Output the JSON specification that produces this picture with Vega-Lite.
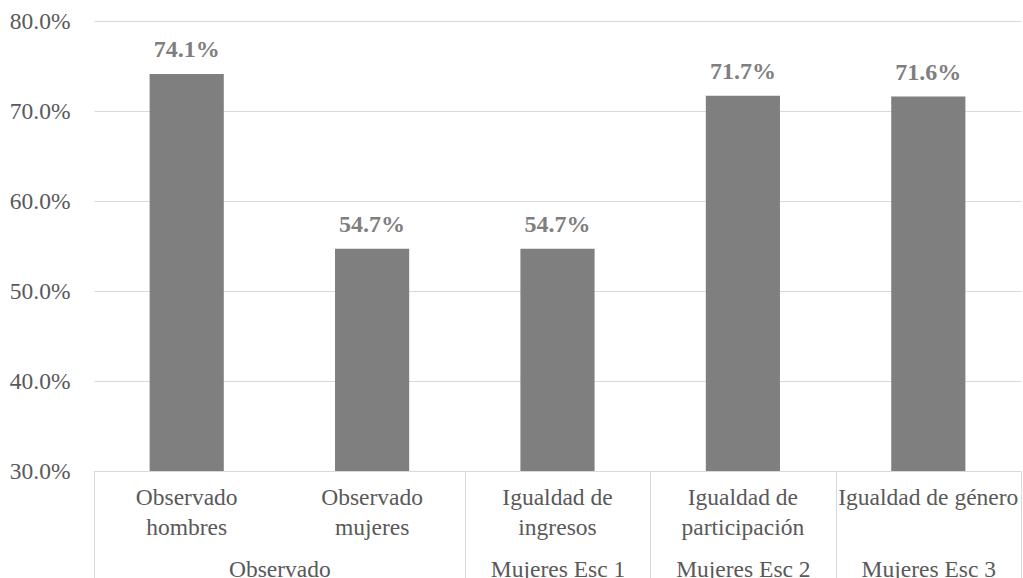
{
  "$schema": "https://vega.github.io/schema/vega-lite/v6.json",
  "width": 927,
  "height": 450,
  "autosize": {"type": "none"},
  "padding": {"left": 94, "top": 21, "right": 2, "bottom": 107},
  "background": "white",
  "config": {
    "view": {"stroke": null},
    "font": "Liberation Serif, Times New Roman, serif",
    "text": {"font": "Liberation Serif, Times New Roman, serif"},
    "axis": {"labelFont": "Liberation Serif, Times New Roman, serif", "titleFont": "Liberation Serif, Times New Roman, serif"}
  },
  "datasets": {
    "bars": [
      {"cat": "Observado|hombres", "value": 0.741},
      {"cat": "Observado|mujeres", "value": 0.547},
      {"cat": "Igualdad de|ingresos", "value": 0.547},
      {"cat": "Igualdad de|participación", "value": 0.717},
      {"cat": "Igualdad de género", "value": 0.716}
    ],
    "seps": [{"pos": 0}, {"pos": 2}, {"pos": 3}, {"pos": 4}, {"pos": 5}],
    "groups": [
      {"pos": 1, "name": "Observado"},
      {"pos": 2.5, "name": "Mujeres Esc 1"},
      {"pos": 3.5, "name": "Mujeres Esc 2"},
      {"pos": 4.5, "name": "Mujeres Esc 3"}
    ]
  },
  "layer": [
    {
      "data": {"name": "bars"},
      "encoding": {
        "x": {
          "field": "cat",
          "type": "nominal",
          "sort": null,
          "scale": {"paddingInner": 0.6, "paddingOuter": 0.3},
          "axis": {
            "title": null,
            "labelAngle": 0,
            "labelExpr": "split(datum.label, '|')",
            "labelFont": "Liberation Serif, Times New Roman, serif",
            "labelFontSize": 23.5,
            "labelColor": "#595959",
            "labelLimit": 400,
            "labelPadding": 14,
            "labelLineHeight": 30,
            "ticks": false,
            "domain": true,
            "domainColor": "#d9d9d9",
            "domainWidth": 1,
            "grid": false
          }
        },
        "y": {
          "field": "value",
          "type": "quantitative",
          "scale": {"domain": [0.3, 0.8], "nice": false, "zero": false},
          "axis": {
            "title": null,
            "values": [0.3, 0.4, 0.5, 0.6, 0.7, 0.8],
            "format": ".1%",
            "labelFont": "Liberation Serif, Times New Roman, serif",
            "labelFontSize": 23.5,
            "labelColor": "#595959",
            "labelPadding": 24,
            "ticks": false,
            "domain": false,
            "grid": true,
            "gridColor": "#d9d9d9",
            "gridWidth": 1
          }
        }
      },
      "layer": [
        {"mark": {"type": "bar", "color": "#7f7f7f", "clip": true}},
        {
          "mark": {"type": "text", "dy": -17, "baseline": "alphabetic", "fontWeight": "bold", "fontSize": 24, "color": "#7f7f7f", "font": "Liberation Serif, Times New Roman, serif"},
          "encoding": {"text": {"field": "value", "type": "quantitative", "format": ".1%"}}
        }
      ]
    },
    {
      "data": {"name": "seps"},
      "mark": {"type": "rule", "opacity": 0},
      "encoding": {
        "x": {
          "field": "pos",
          "type": "quantitative",
          "scale": {"domain": [0, 5], "nice": false, "zero": false},
          "axis": {
            "orient": "bottom",
            "title": null,
            "values": [0, 2, 3, 4, 5],
            "labels": false,
            "domain": false,
            "grid": false,
            "ticks": true,
            "tickSize": 108,
            "tickColor": "#d9d9d9",
            "tickWidth": 1
          }
        }
      }
    },
    {
      "data": {"name": "groups"},
      "mark": {"type": "rule", "opacity": 0},
      "encoding": {
        "x": {
          "field": "pos",
          "type": "quantitative",
          "scale": {"domain": [0, 5], "nice": false, "zero": false},
          "axis": {
            "orient": "bottom",
            "title": null,
            "values": [1, 2.5, 3.5, 4.5],
            "labelExpr": "datum.value == 1 ? 'Observado' : datum.value == 2.5 ? 'Mujeres Esc 1' : datum.value == 3.5 ? 'Mujeres Esc 2' : 'Mujeres Esc 3'",
            "labelFont": "Liberation Serif, Times New Roman, serif",
            "labelFontSize": 23.5,
            "labelColor": "#595959",
            "labelPadding": 86,
            "labelOverlap": false,
            "labelFlush": false,
            "labelBound": false,
            "labelLimit": 400,
            "domain": false,
            "grid": false,
            "ticks": false
          }
        }
      }
    }
  ],
  "resolve": {"scale": {"x": "independent"}}
}
